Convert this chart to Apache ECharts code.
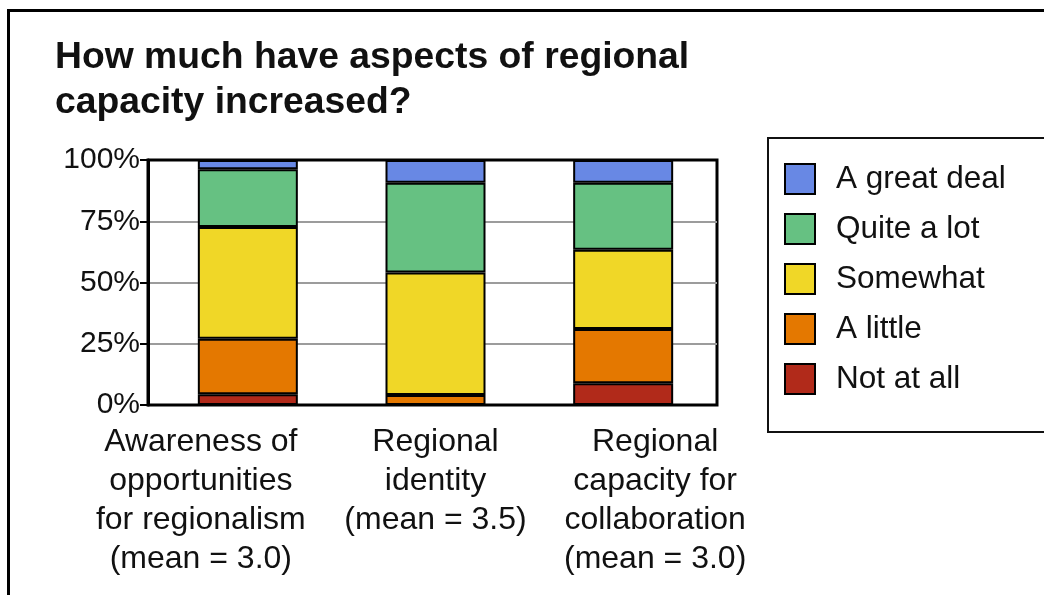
<!DOCTYPE html>
<html>
<head>
<meta charset="utf-8">
<script src="https://cdn.jsdelivr.net/npm/echarts@6/dist/echarts.min.js"></script>
<style>
  html, body { margin: 0; padding: 0; background: #fff; }
  #chart { width: 1044px; height: 595px; }
</style>
</head>
<body>
<div id="chart"></div>
<script>
// Categories (x-axis labels)
const categories = [
  'Awareness of\nopportunities\nfor regionalism\n(mean = 3.0)',
  'Regional\nidentity\n(mean = 3.5)',
  'Regional\ncapacity for\ncollaboration\n(mean = 3.0)'
];

// Response shares (%) per category, stacked bottom to top
const notAtAll   = [4.4, 0, 8.9];
const aLittle    = [22.6, 4.1, 22.1];
const somewhat   = [45.7, 50.0, 32.4];
const quiteALot  = [23.5, 36.6, 27.3];
const aGreatDeal = [3.8, 9.3, 9.3];

// Y-axis ticks
const yTicks = [0, 25, 50, 75, 100];

const seriesNames = ['Not at all', 'A little', 'Somewhat', 'Quite a lot', 'A great deal'];
const seriesData = [notAtAll, aLittle, somewhat, quiteALot, aGreatDeal];
const seriesColors = ['#b12a1a', '#e47800', '#f0d727', '#66c182', '#6888e4'];

const FONT = '"Liberation Sans", Arial, Helvetica, sans-serif';

// Outer labels are nudged away from the middle one so the long lines don't collide
const labelStyles = ['shiftL', 'mid', 'shiftR'];

const chart = echarts.init(document.getElementById('chart'), null, { renderer: 'canvas' });

chart.setOption({
  animation: false,
  backgroundColor: '#fff',
  textStyle: { fontFamily: FONT },
  title: {
    text: 'How much have aspects of regional\ncapacity increased?',
    left: 55,
    top: 35,
    padding: 0,
    textStyle: {
      fontFamily: FONT,
      fontSize: 37.3,
      fontWeight: 'bold',
      lineHeight: 45,
      color: '#111'
    }
  },
  legend: {
    orient: 'vertical',
    left: 784,
    top: 163,
    padding: 0,
    itemWidth: 30,
    itemHeight: 30,
    itemGap: 18,
    icon: 'rect',
    data: seriesNames.slice().reverse(),
    textStyle: {
      fontFamily: FONT,
      fontSize: 31.5,
      color: '#111',
      padding: [0, 0, 0, 16]
    }
  },
  graphic: [
    {
      // outer frame
      type: 'rect',
      shape: { x: 8.5, y: 10.5, width: 1100, height: 700 },
      style: { fill: 'none', stroke: '#000', lineWidth: 3 },
      silent: true
    },
    {
      // legend box
      type: 'rect',
      shape: { x: 768, y: 138, width: 320, height: 294 },
      style: { fill: 'none', stroke: '#111', lineWidth: 2 },
      silent: true
    }
  ],
  grid: [
    { left: 148, right: 327, top: 160, bottom: 190, show: true, borderColor: '#000', borderWidth: 3, backgroundColor: 'transparent' },
    { left: 154, right: 327, top: 160, bottom: 190 }
  ],
  xAxis: [
    {
      type: 'category',
      gridIndex: 0,
      data: categories,
      axisLine: { show: false },
      axisTick: { show: false },
      axisLabel: { show: false }
    },
    {
      type: 'category',
      gridIndex: 1,
      data: categories,
      axisLine: { show: false },
      axisTick: { show: false },
      axisLabel: {
        interval: 0,
        margin: 18,
        color: '#111',
        align: 'center',
        formatter: function (value, index) {
          const key = labelStyles[index];
          return value.split('\n').map(line => '{' + key + '|' + line + '}').join('\n');
        },
        rich: {
          shiftL: { fontFamily: FONT, fontSize: 32, lineHeight: 39, color: '#111', padding: [0, 94, 0, 0] },
          mid:    { fontFamily: FONT, fontSize: 32, lineHeight: 39, color: '#111' },
          shiftR: { fontFamily: FONT, fontSize: 32, lineHeight: 39, color: '#111', padding: [0, 0, 0, 64] }
        }
      }
    }
  ],
  yAxis: [
    {
      type: 'value',
      gridIndex: 0,
      min: yTicks[0],
      max: yTicks[yTicks.length - 1],
      interval: yTicks[1] - yTicks[0],
      axisLine: { show: true, lineStyle: { color: '#000', width: 3 } },
      axisTick: { show: true, length: 8, lineStyle: { color: '#000', width: 2 } },
      axisLabel: {
        formatter: '{value}%',
        margin: 8,
        fontFamily: FONT,
        fontSize: 30,
        color: '#111'
      },
      splitLine: {
        show: true,
        showMinLine: false,
        showMaxLine: false,
        lineStyle: { color: '#9c9c9c', width: 2 }
      }
    },
    {
      type: 'value',
      gridIndex: 1,
      min: yTicks[0],
      max: yTicks[yTicks.length - 1],
      interval: yTicks[1] - yTicks[0],
      show: false,
      splitLine: { show: false }
    }
  ],
  series: seriesNames.map((name, i) => ({
    name: name,
    type: 'bar',
    xAxisIndex: 1,
    yAxisIndex: 1,
    stack: 'total',
    barWidth: 100,
    data: seriesData[i],
    itemStyle: {
      color: seriesColors[i],
      borderColor: '#000',
      borderWidth: 2
    }
  }))
});
</script>
</body>
</html>
